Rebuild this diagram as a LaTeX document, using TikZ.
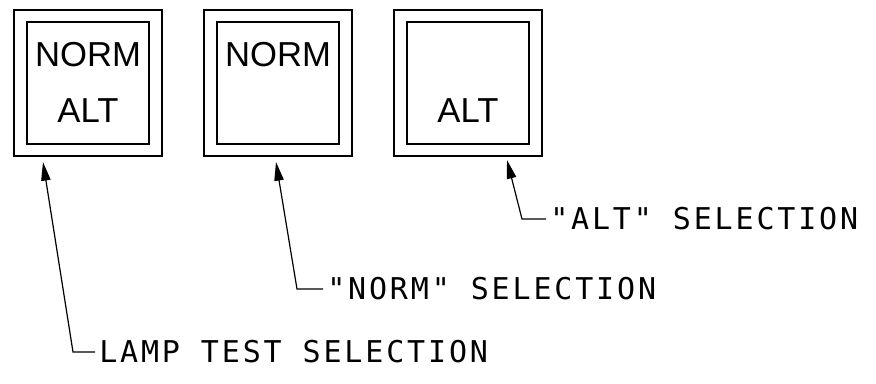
\documentclass[tikz,border=0pt]{standalone}
\usepackage{fontspec}
\usetikzlibrary{positioning,arrows.meta}
\newfontfamily\panelfont{Liberation Sans}
\newfontfamily\cadfont[LetterSpace=9.5]{DejaVu Sans Mono}

\begin{document}
\begin{tikzpicture}[x=0.75pt,y=-0.75pt,
    outerbox/.style={draw=black,line width=1.8pt,minimum width=111pt,minimum height=109.5pt,inner sep=0pt},
    innerbox/.style={draw=black,line width=1.4pt,minimum width=91.5pt,minimum height=92pt,inner sep=0pt},
    lamptxt/.style={font=\panelfont\fontsize{26}{26}\selectfont,inner sep=0pt},
    calltxt/.style={font=\cadfont\fontsize{22.5}{23}\selectfont,anchor=west,inner sep=3pt},
    pointer/.style={line width=0.9pt,-{Triangle[length=14pt,width=7pt]}}]
    \useasboundingbox (0,0) rectangle (876,383);

    % the three lamp faces
    \node[outerbox] (box1) at (88,83) {};
    \node[outerbox] (box2) [right=29.7pt of box1] {};
    \node[outerbox] (box3) [right=29.7pt of box2] {};
    \node[innerbox] (in1) at (box1) {};
    \node[innerbox] (in2) at (box2) {};
    \node[innerbox] (in3) at (box3) {};

    \node[lamptxt] (norm1) at ([yshift=21pt]box1.center) {NORM};
    \node[lamptxt] (alt1) at ([yshift=-20.5pt]box1.center) {ALT};
    \node[lamptxt] (norm2) at ([yshift=21pt]box2.center) {NORM};
    \node[lamptxt] (alt3) at ([yshift=-21pt]box3.center) {ALT};

    % callouts
    \node[calltxt] (lampsel) at (95,352) {LAMP TEST SELECTION};
    \node[calltxt] (normsel) at (323,289) {"NORM" SELECTION};
    \node[calltxt] (altsel) at (546,219) {"ALT" SELECTION};

    \coordinate (tip1) at (43,162);
    \coordinate (tip2) at (276,162);
    \coordinate (tip3) at (507,160);

    \draw[pointer] (lampsel.west) -- ++(-22,0) -- (tip1);
    \draw[pointer] (normsel.west) -- ++(-26,0) -- (tip2);
    \draw[pointer] (altsel.west) -- ++(-24,0) -- (tip3);
\end{tikzpicture}
\end{document}
